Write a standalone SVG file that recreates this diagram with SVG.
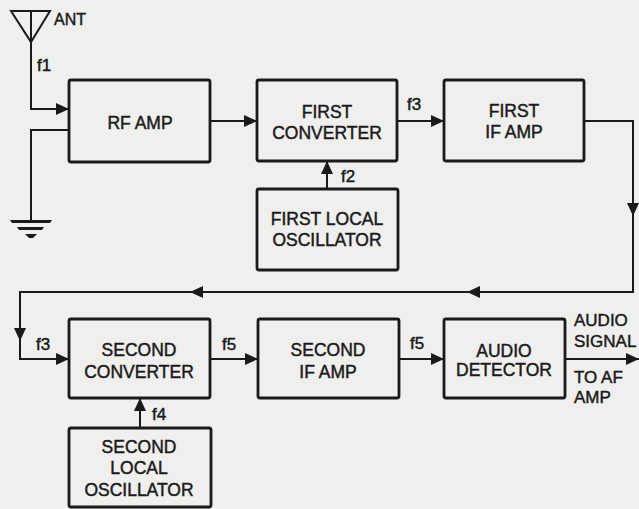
<svg xmlns="http://www.w3.org/2000/svg" width="639" height="509" viewBox="0 0 639 509">
<style>
.box{fill:none;stroke:#1a1a1a;stroke-width:2.8;stroke-linejoin:round}
.ln{fill:none;stroke:#1a1a1a;stroke-width:2}
.t{font-family:"Liberation Sans",Arial,sans-serif;font-size:17.5px;fill:#1a1a1a;stroke:#1a1a1a;stroke-width:0.45;text-anchor:middle}
.l{font-family:"Liberation Sans",Arial,sans-serif;font-size:17px;fill:#1a1a1a;stroke:#1a1a1a;stroke-width:0.45}
.ah{fill:#1a1a1a}
</style>
<defs>
<marker id="arr" markerUnits="userSpaceOnUse" markerWidth="14" markerHeight="12" refX="13" refY="6" orient="auto">
<path d="M0,0 L13,6 L0,12 Z" fill="#1a1a1a"/>
</marker>
</defs>
<rect width="639" height="509" fill="#efefed"/>
<g id="connectors">
<path class="ln" d="M11,11 L50,11 L31,42 Z M31,11 L31,109 L69,109" marker-end="url(#arr)"/>
<path class="ln" d="M69,130 L31,130 L31,220"/>
<path d="M10,220 L52,220 L50,223 L12,223 Z M17,227 L44,227 L42,230 L19,230 Z M25,234 L37,234 L33,238 L29,238 Z" fill="#1a1a1a"/>
<path class="ln" d="M210,121 L257,121" marker-end="url(#arr)"/>
<path class="ln" d="M397,121 L444,121" marker-end="url(#arr)"/>
<path class="ln" d="M327,189 L327,161" marker-end="url(#arr)"/>
<path class="ln" d="M584,121 L633,121 L633,292 L20,292 L20,359 L69,359" marker-end="url(#arr)"/>
<path class="ah" d="M627,203 L639,203 L633,216 Z"/>
<path class="ah" d="M14,328 L26,328 L20,341 Z"/>
<path class="ah" d="M203,286 L203,298 L190,292 Z"/>
<path class="ah" d="M480,286 L480,298 L467,292 Z"/>
<path class="ln" d="M210,359 L258,359" marker-end="url(#arr)"/>
<path class="ln" d="M399,359 L444,359" marker-end="url(#arr)"/>
<path class="ln" d="M565,359 L639,359" marker-end="url(#arr)"/>
<path class="ln" d="M140,428 L140,398" marker-end="url(#arr)"/>
<text class="l" x="54" y="25" style="font-size:16px">ANT</text>
<text class="l" x="37" y="71">f1</text>
<text class="l" x="407" y="110">f3</text>
<text class="l" x="341" y="182">f2</text>
<text class="l" x="36" y="350">f3</text>
<text class="l" x="222" y="350">f5</text>
<text class="l" x="410" y="349">f5</text>
<text class="l" x="152" y="420">f4</text>
<text class="l" x="574" y="326">AUDIO</text>
<text class="l" x="574" y="347">SIGNAL</text>
<text class="l" x="574" y="383">TO AF</text>
<text class="l" x="574" y="403">AMP</text>
</g>
<g id="rf_amp"><rect class="box" x="69" y="80" width="141" height="82" rx="2"/><text class="t" x="140" y="129">RF AMP</text></g>
<g id="first_converter"><rect class="box" x="257" y="80" width="140" height="81" rx="2"/><text class="t" x="327" y="118">FIRST</text><text class="t" x="327" y="139">CONVERTER</text></g>
<g id="first_if_amp"><rect class="box" x="444" y="80" width="140" height="81" rx="2"/><text class="t" x="514" y="117">FIRST</text><text class="t" x="514" y="138">IF AMP</text></g>
<g id="first_local_osc"><rect class="box" x="257" y="189" width="141" height="81" rx="2"/><text class="t" x="327" y="225">FIRST LOCAL</text><text class="t" x="327" y="246">OSCILLATOR</text></g>
<g id="second_converter"><rect class="box" x="69" y="319" width="141" height="79" rx="2"/><text class="t" x="139" y="356">SECOND</text><text class="t" x="139" y="378">CONVERTER</text></g>
<g id="second_if_amp"><rect class="box" x="258" y="319" width="141" height="79" rx="2"/><text class="t" x="328" y="356">SECOND</text><text class="t" x="328" y="378">IF AMP</text></g>
<g id="audio_detector"><rect class="box" x="444" y="319" width="121" height="79" rx="2"/><text class="t" x="504" y="357">AUDIO</text><text class="t" x="504" y="376">DETECTOR</text></g>
<g id="second_local_osc"><rect class="box" x="69" y="428" width="142" height="79" rx="2"/><text class="t" x="139" y="453">SECOND</text><text class="t" x="139" y="474">LOCAL</text><text class="t" x="139" y="496">OSCILLATOR</text></g>
</svg>
